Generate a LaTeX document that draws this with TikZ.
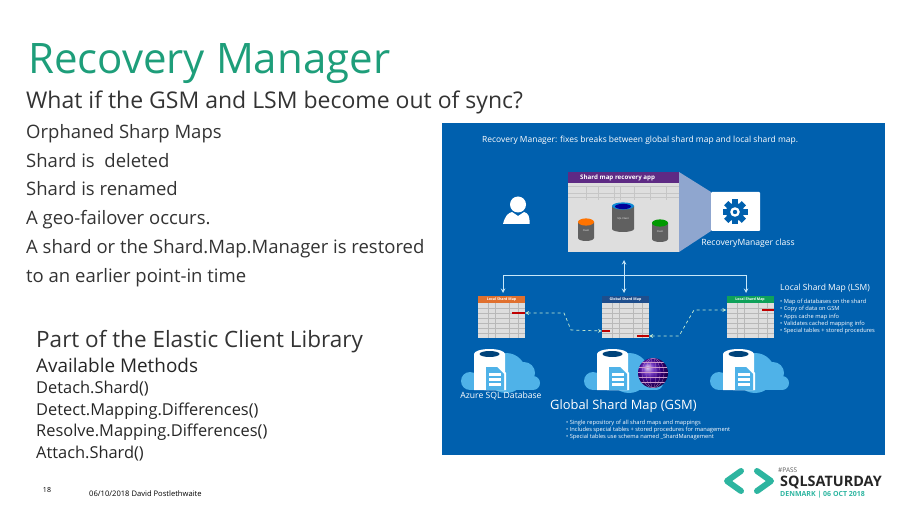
\documentclass[tikz,border=0pt]{standalone}
\usepackage{fontspec}
\setmainfont{Open Sans}
\definecolor{panelblue}{HTML}{0060AE}
\definecolor{titlegreen}{HTML}{1E9E7A}
\definecolor{cloudblue}{HTML}{4FB2E8}
\definecolor{appgrey}{HTML}{DEDEDE}
\definecolor{linkblue}{HTML}{C8E8F9}
\definecolor{dashgreen}{HTML}{C5EBD0}
\definecolor{logoteal}{HTML}{2DB5A0}
\definecolor{funnelblue}{HTML}{8FA6CF}
\definecolor{apppurple}{HTML}{5E2A84}
\definecolor{mapnavy}{HTML}{1F4E8C}
\definecolor{mapgreen}{HTML}{0FA15A}
\definecolor{maporange}{HTML}{E0702E}
\tikzset{
  linetext/.style={anchor=west,inner sep=0pt,text height=1.5ex,text depth=0.1ex},
  bodytext/.style={linetext,text=black!80,font=\fontsize{18.5}{22}\selectfont},
  methodtext/.style={linetext,text=black!85,font=\fontsize{16.4}{20}\selectfont},
  paneltext/.style={linetext,text=white,font=\fontsize{8.5}{10}\selectfont},
  bullettext/.style={linetext,text=white,font=\fontsize{5.7}{7}\selectfont},
  shardtable/.style={draw=none,fill=appgrey,minimum width=47pt,minimum height=42pt,inner sep=0pt},
  tablehead/.style={anchor=north,minimum width=47pt,minimum height=7pt,inner sep=0pt,text=white,font=\fontsize{3.6}{4}\selectfont\bfseries},
  redbar/.style={fill=red!75!black,inner sep=0pt,minimum height=2.4pt},
  link/.style={draw=linkblue,line width=1pt,>=stealth},
  dashlink/.style={draw=dashgreen,line width=0.7pt,dashed,>=stealth}
}
\begin{document}
\begin{tikzpicture}[x=1pt,y=-1pt]
  \useasboundingbox (0,0) rectangle (907,510);
  \node[linetext,text=titlegreen,font=\fontsize{42}{46}\selectfont] (title) at (28,70) {Recovery Manager};
  \node[bodytext,font=\fontsize{23}{26}\selectfont] (question) at (26,105) {What if the GSM and LSM become out of sync?};
  \node[bodytext] (case1) at (26,135) {Orphaned Sharp Maps};
  \node[bodytext] (case2) at (26,164) {Shard is\ \ deleted};
  \node[bodytext] (case3) at (26,192) {Shard is renamed};
  \node[bodytext] (case4) at (26,221) {A geo-failover occurs.};
  \node[bodytext] (case5) at (26,250) {A shard or the Shard.Map.Manager is restored};
  \node[bodytext] (case6) at (26,279) {to an earlier point-in time};
  \node[bodytext,font=\fontsize{22.5}{26}\selectfont] (library) at (36,344) {Part of the Elastic Client Library};
  \node[methodtext,font=\fontsize{18.9}{22}\selectfont] (methods) at (36,369) {Available Methods};
  \node[methodtext] (detach) at (36,390) {Detach.Shard()};
  \node[methodtext] (detect) at (36,412) {Detect.Mapping.Differences()};
  \node[methodtext] (resolve) at (36,433) {Resolve.Mapping.Differences()};
  \node[methodtext] (attach) at (36,455) {Attach.Shard()};
  \node[anchor=center,inner sep=0pt,font=\fontsize{7}{8}\selectfont] (pageno) at (47,490) {18};
  \node[linetext,font=\fontsize{7.6}{9}\selectfont] (footer) at (89,493) {06/10/2018 David Postlethwaite};
  % blue panel
  \fill[panelblue] (442,123) rectangle (885,455);
  \node[paneltext,font=\fontsize{8.45}{10}\selectfont] (headline) at (482,139) {Recovery Manager: fixes breaks between global shard map and local shard map.};
  % person
  \fill[white] (518,204.5) circle (8pt);
  \fill[white] (503,224) .. controls (505,216) and (508,213) .. (512,212) -- (518,216) -- (524,212) .. controls (528,213) and (530,216) .. (529.5,224) -- cycle;
  % recovery app
  \fill[funnelblue] (679,172) -- (711,192) -- (711,231) -- (679,252) -- cycle;
  \node[fill=appgrey,inner sep=0pt,minimum width=111pt,minimum height=80pt] (app) at (623.5,212) {};
  \fill[apppurple] (568,172) rectangle (679,183);
  \node[anchor=west,inner sep=0pt,text=white,font=\fontsize{6.2}{7}\selectfont\bfseries] (apptitle) at (580,177.5) {Shard map recovery app};
  \foreach \y in {186,193,197} \draw[gray!45,line width=0.3pt] (568,\y) -- (679,\y);
  \foreach \x in {586,598,614,620,634,650,666} \draw[gray!45,line width=0.3pt] (\x,186) -- (\x,200);
  \foreach \cx/\top/\rx/\ht/\col/\txt in {623/206/11/23/cyan!70!blue/SQL Client,586/222/8/16/orange!90!red/Client,660/223/8/16/green!60!black/Client} {
    \fill[gray!75!black] (\cx-\rx,\top) -- (\cx-\rx,\top+\ht) arc[start angle=180,end angle=360,x radius=\rx pt,y radius=3pt] -- (\cx+\rx,\top) -- cycle;
    \fill[\col] (\cx,\top) ellipse ({\rx pt} and 3.6pt);
    \node[inner sep=0pt,text=white,font=\fontsize{2.4}{3}\selectfont] at (\cx,\top+\ht/2+2) {\txt};
  }
  \fill[blue!60!black] (623,206.5) ellipse (8pt and 2.6pt);
  % manager class
  \node[fill=white,rounded corners=1pt,inner sep=0pt,minimum width=49pt,minimum height=39pt] (manager) at (735.5,211.5) {};
  \foreach \a in {0,45,...,315} \fill[panelblue,rotate around={\a:(735,212)}] (732,199.5) rectangle (738,205);
  \fill[panelblue] (735,212) circle (9pt);
  \fill[white] (735,212) circle (4.8pt);
  \fill[panelblue] (735,212) circle (2.2pt);
  \node[paneltext,anchor=center,font=\fontsize{8.6}{10}\selectfont] (managerlabel) at (748,242) {RecoveryManager class};
  % shard map tables
  \node[shardtable] (leftmap) at (501.5,317) {};
  \node[shardtable] (globalmap) at (625.5,317) {};
  \node[shardtable] (rightmap) at (750,317) {};
  \node[tablehead,fill=maporange] (lefthead) at (leftmap.north) {Local Shard Map};
  \node[tablehead,fill=mapnavy] (globalhead) at (globalmap.north) {Global Shard Map};
  \node[tablehead,fill=mapgreen] (righthead) at (rightmap.north) {Local Shard Map};
  \foreach \dx in {0,124,249} {
    \foreach \y in {308,313,318,323,328,333} \draw[gray!55,line width=0.25pt] (478+\dx,\y) -- (525+\dx,\y);
    \foreach \x in {488,495,509,518} \draw[gray!55,line width=0.25pt] (\x+\dx,303) -- (\x+\dx,338);
  }
  \node[redbar,minimum width=13pt] (leftbar) at (518.5,313) {};
  \node[redbar,minimum width=8pt] (globalbarA) at (606,331) {};
  \node[redbar,minimum width=12pt] (globalbarB) at (643,336) {};
  \node[redbar,minimum width=12pt] (rightbar) at (767.5,310) {};
  % connectors
  \coordinate (trunkleft) at (503,276); \coordinate (trunkright) at (746,276);
  \draw[link,->] (trunkleft) -- (trunkright) -- (746,293);
  \draw[link,->] (trunkleft) -- (503,293);
  \draw[link,<->] (624,260) -- (624,293);
  \draw[dashlink,<->] (leftbar.east) -- (564,313) -- (571,330) -- (globalbarA.west);
  \draw[dashlink,<->] (globalbarB.east) -- (679,336) -- (694,310) -- (rightmap.west |- rightbar);
  % clouds with databases
  \foreach \dx in {0,123,249} {
    \begin{scope}[xshift=\dx pt]
      \fill[cloudblue] (470,381) circle (9pt) (506,373) circle (20pt) (524,373) circle (11pt) (533,383) circle (7pt);
      \fill[cloudblue] (470,378) rectangle (533,390);
      \fill[white] (474,354) -- (474,390) -- (505,390) -- (505,354) arc[start angle=0,end angle=180,x radius=15.5pt,y radius=5pt];
      \fill[panelblue!70!black] (489.5,354) ellipse (10pt and 3pt);
      \fill[white] (484,390) -- (484,365) -- (498,365) -- (506,373) -- (506,390) -- cycle;
      \fill[cloudblue] (486,390) -- (486,367) -- (497,367) -- (504,374) -- (504,390) -- cycle;
      \foreach \y in {373,378,383} \fill[white] (489,\y) rectangle (501,\y+3);
    \end{scope}
  }
  \shade[ball color=violet!60!blue] (653,373) circle (15pt);
  \begin{scope}
    \clip (653,373) circle (15pt);
    \foreach \r in {3,7,11} \draw[white!60!violet,line width=0.2pt] (653,373) ellipse ({\r pt} and 15pt);
    \foreach \y in {362,367,372,377,382} \draw[white!60!violet,line width=0.2pt] (636,\y) -- (670,\y);
  \end{scope}
  \node[anchor=center,inner sep=0pt,text=white,font=\fontsize{8.6}{10}\selectfont] (azure) at (501,396) {Azure SQL Database};
  \node[paneltext,font=\fontsize{12.9}{16}\selectfont] (gsm) at (550,406) {Global Shard Map (GSM)};
  \node[bullettext] (gsmA) at (566,421) {• Single repository of all shard maps and mappings};
  \node[bullettext] (gsmB) at (566,428) {• Includes special tables + stored procedures for management};
  \node[bullettext] (gsmC) at (566,435) {• Special tables use schema named \_ShardManagement};
  \node[paneltext] (lsm) at (780,287) {Local Shard Map (LSM)};
  \node[bullettext] (lsmA) at (780,300) {• Map of databases on the shard};
  \node[bullettext] (lsmB) at (780,307) {• Copy of data on GSM};
  \node[bullettext] (lsmC) at (780,314.5) {• Apps cache map info};
  \node[bullettext] (lsmD) at (780,322) {• Validates cached mapping info};
  \node[bullettext] (lsmE) at (780,329) {• Special tables + stored procedures};
  % logo
  \draw[logoteal,line width=6pt,line cap=round,line join=round] (741,471) -- (727,481) -- (741,491);
  \draw[logoteal,line width=6pt,line cap=round,line join=round] (757,471) -- (771,481) -- (757,491);
  \node[linetext,text=black!65,font=\fontsize{6.5}{8}\selectfont] (pass) at (778,469) {\#PASS};
  \node[linetext,text=black!85,font=\fontsize{14.4}{16}\selectfont\bfseries] (sqlsat) at (780,483) {SQLSATURDAY};
  \node[linetext,text=logoteal,font=\fontsize{7}{8}\selectfont\bfseries] (denmark) at (780,493) {DENMARK | 06 OCT 2018};
\end{tikzpicture}
\end{document}
